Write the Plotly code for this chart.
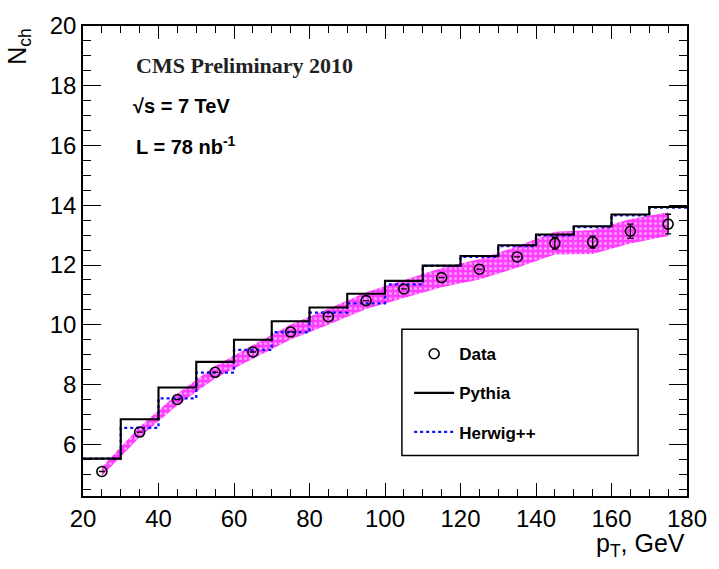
import plotly.graph_objects as go

# Charged-particle multiplicity vs leading-jet pT
pt_edges = [20, 30, 40, 50, 60, 70, 80, 90, 100, 110, 120, 130, 140, 150, 160, 170, 180]
pt_centers = [25, 35, 45, 55, 65, 75, 85, 95, 105, 115, 125, 135, 145, 155, 165, 175]

data_nch = [5.09, 6.41, 7.50, 8.41, 9.09, 9.76, 10.27, 10.81, 11.20, 11.58, 11.86, 12.27,
            12.73, 12.77, 13.13, 13.37]
data_err = [None, None, None, None, None, None, None, None, None, None, None, None,
            0.20, 0.20, 0.24, 0.33]
syst_err = [0.15, 0.17, 0.19, 0.21, 0.23, 0.25, 0.27, 0.28, 0.30, 0.32, 0.34, 0.36,
            0.38, 0.40, 0.41, 0.40]

pythia_nch = [5.52, 6.84, 7.90, 8.76, 9.50, 10.12, 10.58, 11.04, 11.47, 11.98, 12.30, 12.66,
              13.02, 13.30, 13.69, 13.94]
herwig_nch = [5.52, 6.55, 7.54, 8.40, 9.16, 9.75, 10.41, 10.72, 11.35, 11.97, 12.27, 12.63,
              12.99, 13.27, 13.66, 13.92]

x_range = [20, 180]
y_range = [4.27, 20]

FONT = "Liberation Sans, Arial, sans-serif"
MAGENTA = "#ff3cff"

fig = go.Figure()

# systematic uncertainty band around the data
fig.add_trace(go.Scatter(
    x=pt_centers, y=[v - e for v, e in zip(data_nch, syst_err)],
    mode="lines", line=dict(width=0, color=MAGENTA), showlegend=False, hoverinfo="skip"))
fig.add_trace(go.Scatter(
    x=pt_centers, y=[v + e for v, e in zip(data_nch, syst_err)],
    mode="lines", line=dict(width=0, color=MAGENTA), fill="tonexty", fillcolor=MAGENTA,
    fillpattern=dict(shape=".", fgcolor="white", bgcolor=MAGENTA, size=5, solidity=0.3),
    showlegend=False, hoverinfo="skip"))

# MC predictions as step histograms
fig.add_trace(go.Scatter(
    x=pt_edges, y=herwig_nch + [herwig_nch[-1]], mode="lines", line_shape="hv",
    line=dict(color="#1010ff", width=2.3, dash="dot"), name="Herwig++",
    legendgroup="c", legendrank=3))
fig.add_trace(go.Scatter(
    x=pt_edges, y=pythia_nch + [pythia_nch[-1]], mode="lines", line_shape="hv",
    line=dict(color="black", width=2.1), name="Pythia",
    legendgroup="b", legendrank=2))

# measured points
fig.add_trace(go.Scatter(
    x=pt_centers, y=data_nch, mode="markers", name="Data",
    marker=dict(symbol="circle-open", size=10, color="black", line=dict(width=1.6)),
    error_y=dict(type="data", array=data_err, visible=True, color="black",
                 thickness=1.3, width=3),
    legendgroup="a", legendrank=1))

# legend frame
fig.add_shape(type="rect", xref="paper", yref="paper",
              x0=0.528, x1=0.919, y0=0.086, y1=0.355,
              line=dict(color="black", width=1.5), fillcolor="white", layer="below")

axis_common = dict(
    showline=True, linecolor="black", linewidth=1.5, mirror="allticks",
    ticks="inside", tickcolor="black", tickwidth=1.2, showgrid=False, zeroline=False,
    tickfont=dict(family=FONT, size=24, color="black"),
)

fig.update_xaxes(range=x_range, dtick=20, tick0=20, ticklen=13,
                 minor=dict(dtick=5, ticks="inside", ticklen=7, tickcolor="black", tickwidth=1),
                 **axis_common)
fig.update_yaxes(range=y_range, dtick=2, tick0=0, ticklen=18,
                 minor=dict(dtick=0.5, ticks="inside", ticklen=8, tickcolor="black", tickwidth=1),
                 **axis_common)

annotations = [
    dict(text="<b>CMS Preliminary 2010</b>", x=0.084, y=0.915, xanchor="left", yanchor="middle",
         font=dict(family="Liberation Serif, Times New Roman, serif", size=22, color="#222")),
    dict(text="<b>√s = 7 TeV</b>", x=0.08, y=0.83, xanchor="left", yanchor="middle",
         font=dict(family=FONT, size=20, color="black")),
    dict(text="<b>L = 78 nb<sup>-1</sup></b>", x=0.085, y=0.745, xanchor="left", yanchor="middle",
         font=dict(family=FONT, size=20, color="black")),
    dict(text="p<sub>T</sub>, GeV", x=1.0, y=-0.067, xanchor="right", yanchor="top",
         font=dict(family=FONT, size=25, color="black")),
    dict(text="N<sub>ch</sub>", x=-0.137, y=1.0, xanchor="left", yanchor="top", textangle=-90,
         font=dict(family=FONT, size=25, color="black")),
]
for a in annotations:
    a.update(xref="paper", yref="paper", showarrow=False)

fig.update_layout(
    width=719, height=569,
    margin=dict(l=83, r=30, t=20, b=73),
    paper_bgcolor="white", plot_bgcolor="white",
    annotations=annotations,
    legend=dict(x=0.54, y=0.34, xanchor="left", yanchor="top", bgcolor="rgba(0,0,0,0)",
                borderwidth=0, tracegroupgap=14, itemwidth=40,
                font=dict(family=FONT, size=17, color="black", weight="bold")),
    showlegend=True,
)

fig.write_html("out.html")
